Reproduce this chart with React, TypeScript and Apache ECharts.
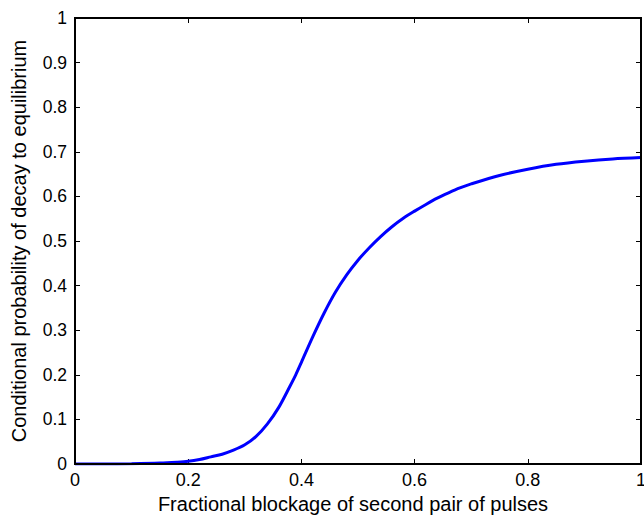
import React, { useEffect, useRef } from "react";
import * as echarts from "echarts";

const xValues = [0, 0.05, 0.1, 0.15, 0.18, 0.2, 0.22, 0.24, 0.26, 0.28, 0.3, 0.32, 0.34, 0.36, 0.38, 0.39, 0.4, 0.42, 0.44, 0.46, 0.48, 0.5, 0.52, 0.54, 0.56, 0.58, 0.6, 0.62, 0.64, 0.66, 0.68, 0.7, 0.75, 0.8, 0.85, 0.9, 0.95, 1.0];
const yValues = [0, 0, 0.0006, 0.002, 0.004, 0.006, 0.01, 0.016, 0.022, 0.031, 0.043, 0.062, 0.09, 0.127, 0.175, 0.2, 0.228, 0.285, 0.338, 0.385, 0.424, 0.457, 0.485, 0.51, 0.532, 0.551, 0.567, 0.582, 0.596, 0.608, 0.619, 0.628, 0.647, 0.661, 0.672, 0.679, 0.684, 0.687];
const xTitle = "Fractional blockage of second pair of pulses";
const yTitle = "Conditional probability of decay to equilibrium";

const font = "'Liberation Sans', Arial, Helvetica, sans-serif";

const GRID = { left: 75, top: 18, right: 3, bottom: 51 };
const W = 644;
const H = 515;

export default function App() {
  const ref = useRef<HTMLDivElement>(null);
  useEffect(() => {
    if (!ref.current) return;
    const chart = echarts.init(ref.current, undefined, { renderer: "svg" });
    const lineStyle = { color: "#000", width: 1.5 };
    const tick = { show: true, inside: true, length: 5, lineStyle: { color: "#000", width: 1 } };
    chart.setOption({
      animation: false,
      backgroundColor: "#fff",
      grid: {
        ...GRID,
        containLabel: false,
        outerBoundsMode: "none",
      },
      xAxis: [
        {
          type: "value",
          min: 0,
          max: 1,
          interval: 0.2,
          position: "bottom",
          name: xTitle,
          nameLocation: "middle",
          nameGap: 29,
          nameTextStyle: { color: "#000", fontSize: 20, fontFamily: font, padding: [0, 10, 0, 0] },
          axisLine: { show: true, onZero: false, lineStyle },
          axisTick: tick,
          axisLabel: { color: "#000", fontSize: 18, fontFamily: font, margin: 7 },
          splitLine: { show: false },
        },
        {
          type: "value",
          min: 0,
          max: 1,
          interval: 0.2,
          position: "top",
          axisLine: { show: true, onZero: false, lineStyle },
          axisTick: tick,
          axisLabel: { show: false },
          splitLine: { show: false },
        },
      ],
      yAxis: [
        {
          type: "value",
          min: 0,
          max: 1,
          interval: 0.1,
          position: "left",
          name: yTitle,
          nameLocation: "middle",
          nameGap: 46,
          nameTextStyle: { color: "#000", fontSize: 20, fontFamily: font },
          axisLine: { show: true, onZero: false, lineStyle },
          axisTick: tick,
          axisLabel: { color: "#000", fontSize: 17.5, fontFamily: font, margin: 8 },
          splitLine: { show: false },
        },
        {
          type: "value",
          min: 0,
          max: 1,
          interval: 0.1,
          position: "right",
          axisLine: { show: true, onZero: false, lineStyle },
          axisTick: tick,
          axisLabel: { show: false },
          splitLine: { show: false },
        },
      ],
      series: [
        {
          type: "line",
          xAxisIndex: 1,
          yAxisIndex: 1,
          data: [[0, 0], [1, 1]],
          showSymbol: false,
          silent: true,
          lineStyle: { opacity: 0 },
          itemStyle: { opacity: 0 },
        },
        {
          type: "line",
          xAxisIndex: 0,
          yAxisIndex: 0,
          data: xValues.map((x, i) => [x, yValues[i]]),
          showSymbol: false,
          smooth: 0.3,
          lineStyle: { color: "#0000ff", width: 3 },
          itemStyle: { color: "#0000ff" },
        },
      ],
    });
    return () => chart.dispose();
  }, []);
  return (
    <div style={{ position: "fixed", left: 0, top: 0, width: W, height: H }}>
      <div ref={ref} style={{ position: "absolute", left: 0, top: 0, width: W, height: H }} />
      <div
        style={{
          position: "absolute",
          left: GRID.left - 1,
          top: GRID.top - 1,
          width: W - GRID.left - GRID.right + 2,
          height: H - GRID.top - GRID.bottom + 2,
          border: "2px solid #000",
          boxSizing: "border-box",
          pointerEvents: "none",
        }}
      />
    </div>
  );
}
